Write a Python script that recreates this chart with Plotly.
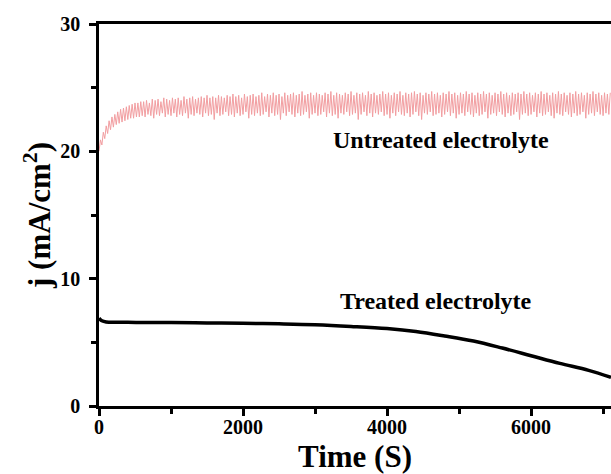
import plotly.graph_objects as go

# Untreated electrolyte (red, oscillating)
t_untreated = [
    0, 20, 40, 60, 80, 100, 120, 140, 160, 180, 200, 220, 240, 260, 280, 300, 320, 340, 360, 380,
    400, 420, 440, 460, 480, 500, 520, 540, 560, 580, 600, 620, 640, 660, 680, 700, 720, 740, 760, 780,
    800, 820, 840, 860, 880, 900, 920, 940, 960, 980, 1000, 1020, 1040, 1060, 1080, 1100, 1120, 1140, 1160, 1180,
    1200, 1220, 1240, 1260, 1280, 1300, 1320, 1340, 1360, 1380, 1400, 1420, 1440, 1460, 1480, 1500, 1520, 1540, 1560, 1580,
    1600, 1620, 1640, 1660, 1680, 1700, 1720, 1740, 1760, 1780, 1800, 1820, 1840, 1860, 1880, 1900, 1920, 1940, 1960, 1980,
    2000, 2020, 2040, 2060, 2080, 2100, 2120, 2140, 2160, 2180, 2200, 2220, 2240, 2260, 2280, 2300, 2320, 2340, 2360, 2380,
    2400, 2420, 2440, 2460, 2480, 2500, 2520, 2540, 2560, 2580, 2600, 2620, 2640, 2660, 2680, 2700, 2720, 2740, 2760, 2780,
    2800, 2820, 2840, 2860, 2880, 2900, 2920, 2940, 2960, 2980, 3000, 3020, 3040, 3060, 3080, 3100, 3120, 3140, 3160, 3180,
    3200, 3220, 3240, 3260, 3280, 3300, 3320, 3340, 3360, 3380, 3400, 3420, 3440, 3460, 3480, 3500, 3520, 3540, 3560, 3580,
    3600, 3620, 3640, 3660, 3680, 3700, 3720, 3740, 3760, 3780, 3800, 3820, 3840, 3860, 3880, 3900, 3920, 3940, 3960, 3980,
    4000, 4020, 4040, 4060, 4080, 4100, 4120, 4140, 4160, 4180, 4200, 4220, 4240, 4260, 4280, 4300, 4320, 4340, 4360, 4380,
    4400, 4420, 4440, 4460, 4480, 4500, 4520, 4540, 4560, 4580, 4600, 4620, 4640, 4660, 4680, 4700, 4720, 4740, 4760, 4780,
    4800, 4820, 4840, 4860, 4880, 4900, 4920, 4940, 4960, 4980, 5000, 5020, 5040, 5060, 5080, 5100, 5120, 5140, 5160, 5180,
    5200, 5220, 5240, 5260, 5280, 5300, 5320, 5340, 5360, 5380, 5400, 5420, 5440, 5460, 5480, 5500, 5520, 5540, 5560, 5580,
    5600, 5620, 5640, 5660, 5680, 5700, 5720, 5740, 5760, 5780, 5800, 5820, 5840, 5860, 5880, 5900, 5920, 5940, 5960, 5980,
    6000, 6020, 6040, 6060, 6080, 6100, 6120, 6140, 6160, 6180, 6200, 6220, 6240, 6260, 6280, 6300, 6320, 6340, 6360, 6380,
    6400, 6420, 6440, 6460, 6480, 6500, 6520, 6540, 6560, 6580, 6600, 6620, 6640, 6660, 6680, 6700, 6720, 6740, 6760, 6780,
    6800, 6820, 6840, 6860, 6880, 6900, 6920, 6940, 6960, 6980, 7000, 7020, 7040, 7060, 7080, 7100,
]
j_untreated = [
    20.0, 20.9, 20.5, 21.5, 21.0, 22.0, 21.4, 22.4, 21.7, 22.7, 21.9, 22.9, 22.1, 23.1, 22.2, 23.3, 22.3, 23.4, 22.4, 23.5,
    22.5, 23.6, 22.6, 23.7, 22.6, 23.8, 22.7, 23.8, 22.7, 23.9,
    22.8, 23.9, 22.7, 24.0, 22.9, 23.8, 22.8, 24.1, 22.6, 24.0, 22.9, 24.1, 22.8, 23.9, 23.0, 24.2, 22.7, 24.1, 22.9, 24.0,
    22.8, 24.2, 23.0, 24.1, 22.7, 24.2, 22.9, 24.0, 22.8, 24.3, 23.0, 24.1, 22.6, 24.2, 22.9, 24.3, 22.8, 24.1, 23.0, 24.2,
    22.9, 24.3, 22.7, 24.2, 23.0, 24.4, 22.8, 24.2, 22.9, 24.3, 22.5, 24.2, 23.0, 24.4, 22.8, 24.3, 22.9, 24.2, 23.1, 24.4,
    22.8, 24.3, 22.9, 24.5, 22.7, 24.3, 23.0, 24.4, 22.8, 24.2, 22.9, 24.5, 23.1, 24.3, 22.6, 24.4, 22.9, 24.5, 22.8, 24.3,
    23.0, 24.4, 22.8, 24.6, 22.9, 24.3, 23.1, 24.5, 22.7, 24.4, 23.0, 24.6, 22.8, 24.4, 22.9, 24.5, 22.5, 24.3, 23.0, 24.6,
    22.8, 24.4, 23.1, 24.5, 22.9, 24.6, 22.7, 24.4, 23.0, 24.5, 22.8, 24.7, 22.9, 24.4, 23.1, 24.5, 22.6, 24.6, 22.9, 24.4,
    23.0, 24.6, 22.8, 24.5, 22.9, 24.4, 23.1, 24.6, 22.7, 24.5, 23.0, 24.7, 22.8, 24.4, 22.9, 24.6, 22.6, 24.5, 23.0, 24.4,
    22.9, 24.6, 23.1, 24.5, 22.8, 24.7, 22.9, 24.4, 23.0, 24.6, 22.5, 24.5, 22.9, 24.6, 23.1, 24.4, 22.8, 24.7, 23.0, 24.5,
    22.7, 24.6, 23.0, 24.4, 22.9, 24.5, 23.1, 24.7, 22.8, 24.5, 22.9, 24.6, 22.6, 24.4, 23.0, 24.6, 22.8, 24.5, 23.1, 24.7,
    22.9, 24.4, 22.8, 24.6, 23.0, 24.5, 22.7, 24.6, 22.9, 24.7, 23.1, 24.5, 22.8, 24.6, 22.5, 24.4, 23.0, 24.6, 22.9, 24.5,
    23.1, 24.7, 22.8, 24.5, 22.9, 24.6, 23.0, 24.4, 22.7, 24.6, 22.9, 24.5, 23.1, 24.7, 22.8, 24.5, 23.0, 24.6, 22.6, 24.4,
    22.9, 24.6, 23.0, 24.5, 22.8, 24.7, 23.1, 24.5, 22.9, 24.6, 22.7, 24.4, 23.0, 24.6, 22.8, 24.5, 22.9, 24.7, 23.1, 24.5,
    22.6, 24.6, 22.9, 24.4, 23.0, 24.6, 22.8, 24.5, 23.1, 24.7, 22.9, 24.5, 22.7, 24.6, 23.0, 24.4, 22.8, 24.6, 22.9, 24.5,
    23.1, 24.6, 22.5, 24.5, 22.9, 24.7, 23.0, 24.5, 22.8, 24.6, 22.9, 24.4, 23.1, 24.6, 22.7, 24.5, 23.0, 24.7, 22.8, 24.5,
    22.9, 24.6, 23.1, 24.4, 22.8, 24.6, 22.6, 24.5, 23.0, 24.7, 22.9, 24.5, 22.8, 24.6, 23.1, 24.4, 22.9, 24.6, 22.7, 24.5,
    23.0, 24.7, 22.8, 24.5, 22.9, 24.6, 23.1, 24.4, 22.6, 24.6, 22.9, 24.5, 23.0, 24.7, 22.8, 24.5, 23.1, 24.6, 22.9, 24.4,
    22.8, 24.6, 23.0, 24.5, 22.9, 24.6,
]

# Treated electrolyte (black)
t_treated = [0, 40, 100, 300, 600, 1000, 1500, 2000, 2500, 3000, 3500, 4000, 4400, 4800, 5200, 5600, 6000, 6400, 6800, 7110]
j_treated = [6.9, 6.7, 6.6, 6.58, 6.55, 6.55, 6.52, 6.5, 6.45, 6.38, 6.25, 6.08, 5.85, 5.5, 5.1, 4.55, 3.95, 3.35, 2.8, 2.25]

labels = ["Untreated electrolyte", "Treated electrolyte"]
label_x = [4750, 4680]
label_y = [20.9, 8.25]

x_ticks = [0, 2000, 4000, 6000]
y_ticks = [0, 10, 20, 30]

FONT = "Liberation Serif, Times New Roman, serif"

fig = go.Figure()
fig.add_trace(go.Scatter(x=t_untreated, y=j_untreated, mode="lines",
                         line=dict(color="#f29ea1", width=1), showlegend=False))
fig.add_trace(go.Scatter(x=t_treated, y=j_treated, mode="lines",
                         line=dict(color="black", width=3.5, shape="spline"), showlegend=False))

for txt, xx, yy in zip(labels, label_x, label_y):
    fig.add_annotation(x=xx, y=yy, text=txt, showarrow=False,
                       font=dict(family=FONT, size=24, color="black", weight="bold"))

fig.update_layout(
    width=611, height=474,
    margin=dict(l=99, r=0, t=24, b=68),
    plot_bgcolor="white", paper_bgcolor="white",
    font=dict(family=FONT, color="black"),
)
fig.update_xaxes(
    range=[0, 7110], tickvals=x_ticks, ticktext=[str(v) for v in x_ticks],
    showgrid=False, zeroline=False,
    showline=True, linecolor="black", linewidth=2.5, mirror=True,
    ticks="outside", ticklen=7, tickwidth=2.5, tickcolor="black",
    ticklabelstandoff=-6,
    tickfont=dict(family=FONT, size=20, color="black", weight="bold"),
    minor=dict(tickvals=[1000, 3000, 5000, 7000], ticks="outside", ticklen=5, tickwidth=2.5, tickcolor="black"),
    title=dict(text="Time (S)", font=dict(family=FONT, size=31, color="black", weight="bold"), standoff=11),
)
fig.update_yaxes(
    range=[0, 30], tickvals=y_ticks, ticktext=[str(v) for v in y_ticks],
    showgrid=False, zeroline=False,
    showline=True, linecolor="black", linewidth=2.5, mirror=False,
    ticks="outside", ticklen=7, tickwidth=2.5, tickcolor="black",
    ticklabelstandoff=5,
    tickfont=dict(family=FONT, size=20, color="black", weight="bold"),
    minor=dict(tickvals=[5, 15, 25], ticks="outside", ticklen=5, tickwidth=2.5, tickcolor="black"),
    title=dict(text="j (mA/cm<sup>2</sup>)", font=dict(family=FONT, size=31, color="black", weight="bold"), standoff=1),
)

fig.write_html("out.html")
